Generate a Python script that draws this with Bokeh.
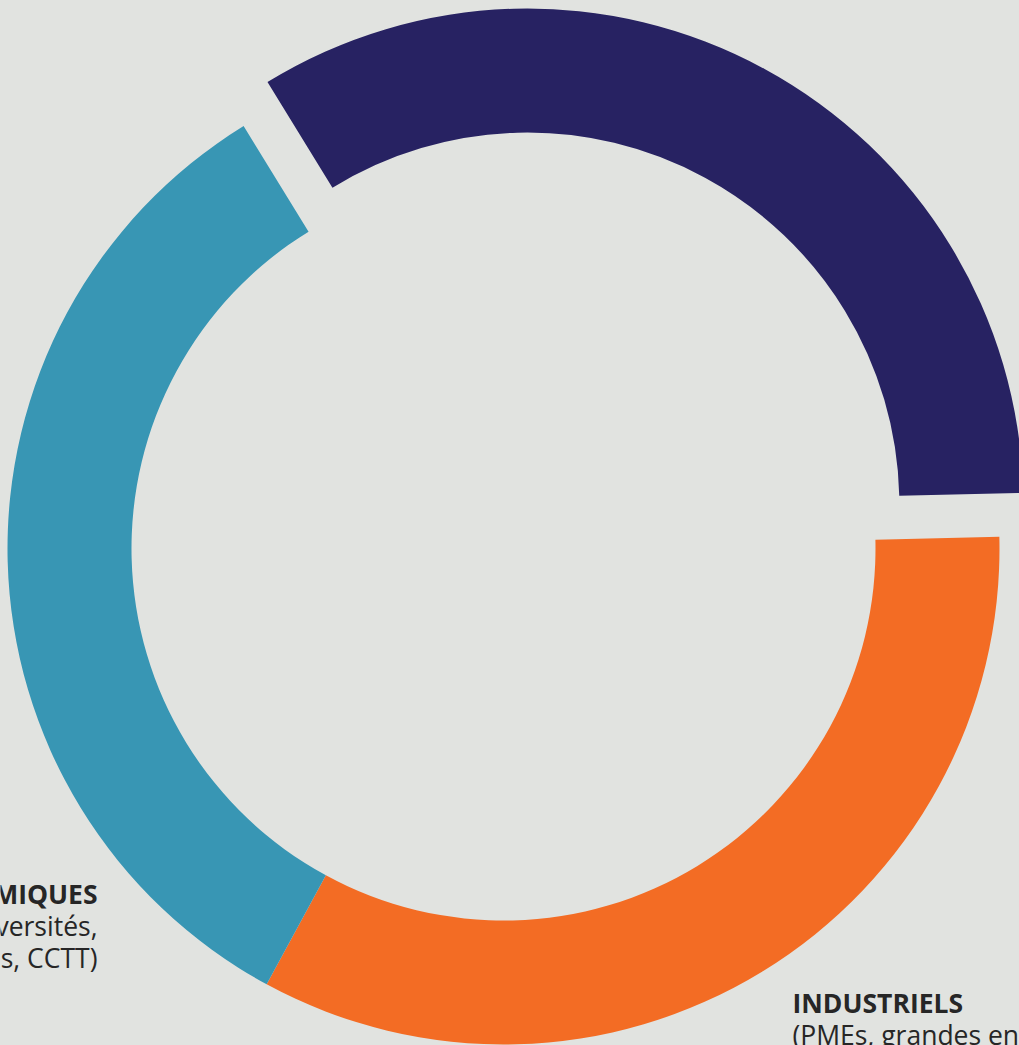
import math
from bokeh.plotting import figure
from bokeh.models import Range1d, ColumnDataSource, GlobalInlineStyleSheet
from bokeh.core.properties import value
from bokeh.embed import file_html
from bokeh.resources import INLINE

# ---- data ----
categories = ["", "INDUSTRIELS", "ACADÉMIQUES"]
shares = [33.4, 33.3, 33.3]
colors = ["#272262", "#f36c24", "#3896b4"]
explode = [50, 0, 0]
label_titles = ["", "INDUSTRIELS", "ACADÉMIQUES"]
label_details = [[], ["(PMEs, grandes entreprises)"], ["(Universités,", "écoles, CCTT)"]]

# ---- layout ----
W, H = 1019, 1045
BG = "#e1e3e0"
CX, CY = 503, H - 548
R_OUT, R_IN = 496, 372
START_DEG = 121.6
FONT = "Open Sans"
FS = "26.5px"
LINE = 32
TEXT_COLOR = "#262626"
label_pos = [None, (792, H - 1002, "left"), (97, H - 893, "right")]

total = sum(shares)
xs, ys, starts, ends = [], [], [], []
a0 = START_DEG
for v, ex in zip(shares, explode):
    a1 = a0 - 360.0 * v / total
    mid = math.radians((a0 + a1) / 2)
    xs.append(CX + ex * math.cos(mid))
    ys.append(CY + ex * math.sin(mid))
    starts.append(math.radians(a1))
    ends.append(math.radians(a0))
    a0 = a1

src = ColumnDataSource(dict(x=xs, y=ys, start=starts, end=ends, color=colors, cat=categories))

p = figure(width=W, height=H, x_range=Range1d(0, W), y_range=Range1d(0, H),
           output_backend="svg", toolbar_location=None, min_border=0,
           background_fill_color=BG, border_fill_color=BG, outline_line_color=None)
p.axis.visible = False
p.grid.visible = False
p.stylesheets = [GlobalInlineStyleSheet(
    css="html, body { margin: 0 !important; padding: 0; background: %s; overflow: hidden; }" % BG)]

p.annular_wedge(x="x", y="y", inner_radius=R_IN, outer_radius=R_OUT,
                start_angle="start", end_angle="end", fill_color="color",
                line_color=None, source=src)

for title, details, pos in zip(label_titles, label_details, label_pos):
    if pos is None:
        continue
    lx, ly, align = pos
    p.text(x=[lx], y=[ly], text=[title], text_align=align, text_baseline="alphabetic",
           text_font=value(FONT), text_font_style="bold", text_font_size=FS,
           text_color=TEXT_COLOR)
    for i, d in enumerate(details):
        p.text(x=[lx], y=[ly - LINE * (i + 1)], text=[d], text_align=align,
               text_baseline="alphabetic", text_font=value(FONT),
               text_font_size=FS, text_color=TEXT_COLOR)

open("out.html", "w").write(file_html(p, INLINE))
